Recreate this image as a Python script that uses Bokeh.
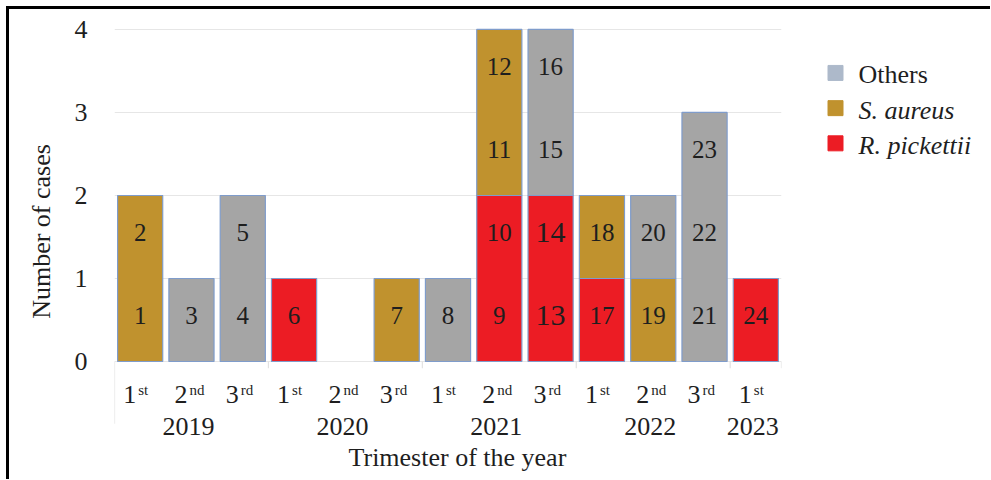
from bokeh.plotting import figure
from bokeh.layouts import row
from bokeh.models import (Range1d, FactorRange, FixedTicker, ColumnDataSource, Title)
from bokeh.transform import dodge
from bokeh.core.properties import value
from bokeh.embed import file_html
from bokeh.resources import INLINE

# ---------------- data ----------------
years = ["2019", "2019", "2019", "2020", "2020", "2020", "2021", "2021", "2021",
         "2022", "2022", "2022", "2023"]
trimester_num = ["1", "2", "3", "1", "2", "3", "1", "2", "3", "1", "2", "3", "1"]
trimester_sup = ["st", "nd", "rd", "st", "nd", "rd", "st", "nd", "rd", "st", "nd", "rd", "st"]
categories = [f"{y}-{t}" for y, t in zip(years, trimester_num)]

r_pickettii = [0, 0, 0, 1, 0, 0, 0, 2, 2, 1, 0, 0, 1]
s_aureus = [2, 0, 0, 0, 0, 1, 0, 2, 0, 1, 1, 0, 0]
others = [0, 1, 2, 0, 0, 0, 1, 0, 2, 0, 1, 3, 0]

case_numbers = [1, 2, 3, 4, 5, 6, 7, 8, 9, 10, 11, 12, 13, 14, 15, 16, 17, 18,
                19, 20, 21, 22, 23, 24]

year_labels = ["2019", "2020", "2021", "2022", "2023"]
year_label_at = ["2019-2", "2020-2", "2021-2", "2022-2", "2023-1"]
group_first = ["2019-1", "2020-1", "2021-1", "2022-1", "2023-1"]

y_ticks = [0, 1, 2, 3, 4]

legend_labels = ["Others", "S. aureus", "R. pickettii"]   # top to bottom

# ---------------- style ----------------
FONT = "Liberation Serif"
GFONT = value("'Liberation Serif', serif")
RED = "#EC1C24"
GOLD = "#C0922E"
GRAY = "#A5A5A5"
OUTLINE = "#7F9CCB"
TXT = "#1E1E1E"
H = 470
LW = 191
BT, BB = 11, 37
colors = {"R. pickettii": RED, "S. aureus": GOLD, "Others": GRAY}
legend_colors = {"R. pickettii": RED, "S. aureus": GOLD, "Others": "#ADB9CA"}
italic = {"S. aureus", "R. pickettii"}

p = figure(width=790, height=H, x_range=FactorRange(*categories),
           y_range=Range1d(-0.976, 4.108), x_axis_location=None,
           output_backend="svg", toolbar_location=None,
           min_border_left=105, min_border_right=18, min_border_top=BT,
           min_border_bottom=BB)
p.outline_line_color = None
p.xgrid.grid_line_color = None
p.ygrid.ticker = FixedTicker(ticks=y_ticks)
p.ygrid.grid_line_color = "#E6E6E6"
p.ygrid.grid_line_width = 1.2

yax = p.yaxis[0]
yax.ticker = FixedTicker(ticks=y_ticks)
yax.axis_line_color = None
yax.major_tick_line_color = None
yax.minor_tick_line_color = None
yax.major_label_standoff = 21
yax.major_label_text_font = FONT
yax.major_label_text_font_size = "26px"
yax.major_label_text_color = TXT
yax.axis_label = "Number of cases"
yax.axis_label_text_font = FONT
yax.axis_label_text_font_size = "26px"
yax.axis_label_text_font_style = "normal"
yax.axis_label_text_color = TXT
yax.axis_label_standoff = 16

# stacked bars (bottom to top: R. pickettii, S. aureus, Others)
series = [("R. pickettii", r_pickettii), ("S. aureus", s_aureus), ("Others", others)]
base = [0] * len(categories)
for name, vals in series:
    xs, bots, tops = [], [], []
    for i, (c, v) in enumerate(zip(categories, vals)):
        if v > 0:
            xs.append(c)
            bots.append(base[i])
            tops.append(base[i] + v)
        base[i] += v
    src = ColumnDataSource(dict(x=xs, bottom=bots, top=tops))
    p.vbar(x="x", bottom="bottom", top="top", width=0.88, source=src,
           fill_color=colors[name], line_color=OUTLINE, line_width=1.2)

# case-number labels, one per unit of each stacked bar
lab_x, lab_y = [], []
for i, c in enumerate(categories):
    total = r_pickettii[i] + s_aureus[i] + others[i]
    for k in range(total):
        lab_x.append(c)
        lab_y.append(k + 0.55)
big = {13, 14}
lab_size = ["30px" if n in big else "25px" for n in case_numbers]
lab_src = ColumnDataSource(dict(x=lab_x, y=lab_y, t=[str(n) for n in case_numbers],
                                size=lab_size))
p.text(x="x", y="y", text="t", source=lab_src, text_font=GFONT,
       text_font_size="size", text_align="center", text_baseline="middle",
       text_color=TXT)

# category axis labels (trimester with superscript, then year)
tri_src = ColumnDataSource(dict(x=categories, y=[-0.398] * len(categories),
                                num=trimester_num, sup=trimester_sup))
p.text(x="x", y="y", text="num", source=tri_src, text_font=GFONT,
       text_font_size="26px", text_align="right", text_baseline="middle",
       x_offset=-4, text_color=TXT)
p.text(x="x", y="y", text="sup", source=tri_src, text_font=GFONT,
       text_font_size="15px", text_align="left", text_baseline="middle",
       x_offset=-2, y_offset=-5, text_color=TXT)

yr_src = ColumnDataSource(dict(x=year_label_at, y=[-0.783] * len(year_labels),
                               t=year_labels))
p.text(x="x", y="y", text="t", source=yr_src, text_font=GFONT,
       text_font_size="26px", text_align="center", text_baseline="middle",
       x_offset=-3, text_color=TXT)

# faint group separators
sep_src = ColumnDataSource(dict(x=group_first, y0=[0] * len(group_first),
                                y1=[-0.75] + [-0.08] * (len(group_first) - 1)))
p.segment(x0=dodge("x", -0.5, range=p.x_range), x1=dodge("x", -0.5, range=p.x_range),
          y0="y0", y1="y1", source=sep_src, line_color="#E2E2E2", line_width=1.2)
end_src = ColumnDataSource(dict(x=[categories[-1]], y0=[0], y1=[-0.08]))
p.segment(x0=dodge("x", 0.5, range=p.x_range), x1=dodge("x", 0.5, range=p.x_range),
          y0="y0", y1="y1", source=end_src, line_color="#E2E2E2", line_width=1.2)

# x title
xt = Title(text="Trimester of the year", align="left", offset=234, standoff=0,
           vertical_align="top",
           text_font=FONT, text_font_size="26px", text_font_style="normal",
           text_color=TXT)
p.add_layout(xt, "below")

# ---------------- legend panel ----------------
# legend rows stacked downward from the top; one unit per row
n_leg = len(legend_labels)
leg_y = [n_leg - 1 - i for i in range(n_leg)]
pl = figure(width=LW, height=H, x_range=Range1d(0, LW),
            y_range=Range1d(-8.5, 3.49),
            output_backend="svg", toolbar_location=None,
            x_axis_location=None, y_axis_location=None,
            min_border_left=0, min_border_right=0, min_border_top=BT,
            min_border_bottom=BB)
pl.outline_line_color = None
pl.grid.visible = False
leg_src = ColumnDataSource(dict(
    x=[0] * n_leg, y=leg_y, t=legend_labels,
    color=[legend_colors[l] for l in legend_labels],
    style=["italic" if l in italic else "normal" for l in legend_labels]))
pl.scatter(x=dodge("x", 36, range=pl.x_range), y="y", source=leg_src, marker="square",
           size=15, fill_color="color", line_color="color", line_width=1)
pl.text(x=dodge("x", 59, range=pl.x_range), y="y", text="t", source=leg_src,
        text_font=GFONT, text_font_size="26px", text_font_style="style",
        text_align="left", text_baseline="middle", y_offset=2, text_color=TXT)

layout = row(p, pl, styles={"border-top": "3px solid #000", "border-left": "3px solid #000",
                            "margin-left": "6px", "margin-top": "6px"})

open("out.html", "w").write(file_html(layout, INLINE))
